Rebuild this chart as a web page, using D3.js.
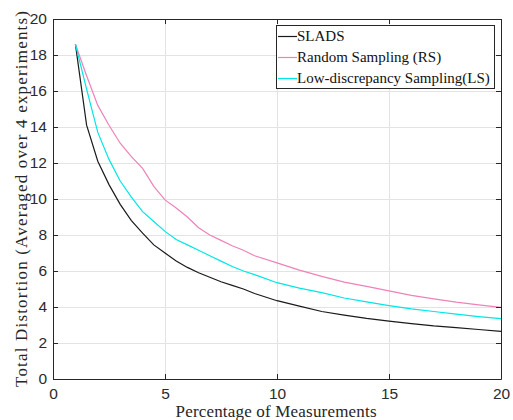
<!DOCTYPE html>
<html>
<head>
<meta charset="utf-8">
<script src="https://cdn.jsdelivr.net/npm/d3@7"></script>
<style>
  body { margin: 0; background: #fff; }
  svg { display: block; }
</style>
</head>
<body>
<script>
// percentages of measurements (x)
var pct = [1, 1.5, 2, 2.5, 3, 3.5, 4, 4.5, 5, 5.5, 6, 6.5, 7, 7.5, 8, 8.5, 9,
           10, 11, 12, 13, 14, 15, 16, 17, 18, 19, 20];

var slads = [18.6, 14.1, 12.1, 10.8, 9.7, 8.8, 8.1, 7.45, 7.0, 6.55, 6.2, 5.9, 5.65, 5.4, 5.2, 5.0, 4.75,
             4.35, 4.05, 3.75, 3.55, 3.37, 3.22, 3.08, 2.95, 2.85, 2.75, 2.65];
var randomS = [18.6, 16.85, 15.2, 14.1, 13.1, 12.35, 11.7, 10.7, 9.95, 9.5, 9.0, 8.4, 8.0, 7.7, 7.4, 7.15, 6.85,
               6.45, 6.05, 5.7, 5.38, 5.15, 4.9, 4.65, 4.45, 4.27, 4.12, 3.98];
var lowDisc = [18.6, 16.1, 13.7, 12.2, 11.0, 10.1, 9.3, 8.75, 8.2, 7.75, 7.45, 7.15, 6.85, 6.55, 6.25, 6.0, 5.8,
               5.35, 5.05, 4.8, 4.5, 4.28, 4.08, 3.9, 3.75, 3.6, 3.47, 3.35];

var seriesNames = ['SLADS', 'Random Sampling (RS)', 'Low-discrepancy Sampling(LS)'];
var seriesColors = ['#1a1a1a', '#ee82b8', '#00e6e6'];
var xTicks = [0, 5, 10, 15, 20];
var yTicks = [0, 2, 4, 6, 8, 10, 12, 14, 16, 18, 20];

var width = 513, height = 420;
var margin = {top: 19, right: 12, bottom: 41, left: 53};
var w = width - margin.left - margin.right;
var h = height - margin.top - margin.bottom;

var svg = d3.select('body').append('svg')
    .attr('width', width)
    .attr('height', height);

var g = svg.append('g')
    .attr('transform', 'translate(' + margin.left + ',' + margin.top + ')');

var xScale = d3.scaleLinear().domain([0, 20]).range([0, w]);
var yScale = d3.scaleLinear().domain([0, 20]).range([h, 0]);

// grid
g.append('g')
  .selectAll('line')
  .data(xTicks.slice(1, -1))
  .enter().append('line')
  .attr('x1', (d) => xScale(d) + 0.5).attr('x2', (d) => xScale(d) + 0.5)
  .attr('y1', 0).attr('y2', h)
  .attr('stroke', '#e3e3e3');

g.append('g')
  .selectAll('line')
  .data(yTicks.slice(1, -1))
  .enter().append('line')
  .attr('y1', (d) => Math.round(yScale(d)) + 0.5).attr('y2', (d) => Math.round(yScale(d)) + 0.5)
  .attr('x1', 0).attr('x2', w)
  .attr('stroke', '#e3e3e3');

// lines
var data = [slads, randomS, lowDisc];
var line = d3.line()
    .x((d, i) => xScale(pct[i]))
    .y((d) => yScale(d));

g.selectAll('.series')
  .data(data)
  .enter().append('path')
  .attr('class', 'series')
  .attr('d', line)
  .attr('fill', 'none')
  .attr('stroke', (d, i) => seriesColors[i])
  .attr('stroke-width', 1.2);

// axes (ticks inward, box on)
var axisStyle = function(sel) {
  sel.select('.domain').attr('stroke', '#262626');
  sel.selectAll('.tick line').attr('stroke', '#262626');
  sel.selectAll('.tick text')
    .attr('fill', '#2b2b2b')
    .attr('font-family', 'Liberation Sans, Arial, sans-serif')
    .attr('font-size', 15.5);
};

g.append('g')
  .attr('transform', 'translate(0,' + h + ')')
  .call(d3.axisBottom(xScale).tickValues(xTicks).tickSize(-5).tickSizeOuter(0).tickPadding(9))
  .call(axisStyle);

g.append('g')
  .call(d3.axisLeft(yScale).tickValues(yTicks).tickSize(-5).tickSizeOuter(0).tickPadding(6))
  .call(axisStyle);

g.append('g')
  .call(d3.axisTop(xScale).tickValues(xTicks).tickSize(-5).tickSizeOuter(0).tickFormat(''))
  .call(axisStyle);

g.append('g')
  .attr('transform', 'translate(' + w + ',0)')
  .call(d3.axisRight(yScale).tickValues(yTicks).tickSize(-5).tickSizeOuter(0).tickFormat(''))
  .call(axisStyle);

// axis labels
svg.append('text')
  .attr('x', 276)
  .attr('y', 417)
  .attr('text-anchor', 'middle')
  .attr('font-family', 'Liberation Serif, serif')
  .attr('font-size', 17)
  .attr('textLength', 201)
  .attr('lengthAdjust', 'spacing')
  .attr('fill', '#262626')
  .text('Percentage of Measurements');

svg.append('text')
  .attr('transform', 'translate(27,' + (margin.top + h / 2) + ') rotate(-90)')
  .attr('text-anchor', 'middle')
  .attr('font-family', 'Liberation Serif, serif')
  .attr('font-size', 17)
  .attr('textLength', 376)
  .attr('lengthAdjust', 'spacing')
  .attr('fill', '#262626')
  .text('Total Distortion (Averaged over 4 experiments)');

// legend
var lx = 276, ly = 25, lw = 218, lh = 63;
var legend = svg.append('g');
legend.append('rect')
  .attr('x', lx + 0.5).attr('y', ly + 0.5)
  .attr('width', lw).attr('height', lh)
  .attr('fill', '#fff')
  .attr('stroke', '#262626');

var item = legend.selectAll('.item')
  .data(seriesNames)
  .enter().append('g')
  .attr('class', 'item')
  .attr('transform', (d, i) => 'translate(' + lx + ',' + (ly + 11 + i * 21) + ')');

item.append('line')
  .attr('x1', 2).attr('x2', 21)
  .attr('y1', 0.5).attr('y2', 0.5)
  .attr('stroke', (d, i) => seriesColors[i])
  .attr('stroke-width', 1.2);

item.append('text')
  .attr('x', 21)
  .attr('y', 5)
  .attr('font-family', 'Liberation Serif, serif')
  .attr('font-size', 15)
  .attr('fill', '#111')
  .text((d) => d);
</script>
</body>
</html>
